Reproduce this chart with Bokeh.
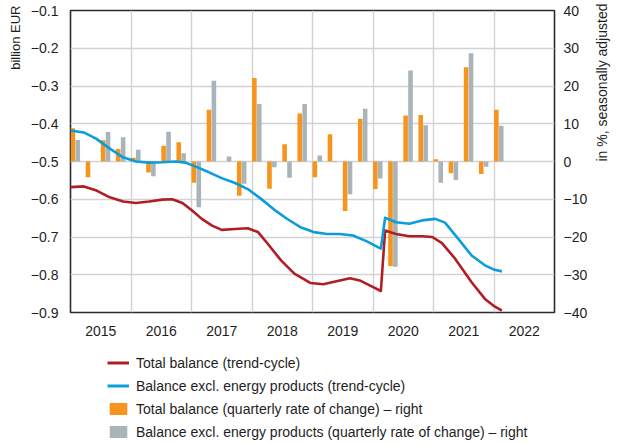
import math
from bokeh.plotting import figure
from bokeh.layouts import column
from bokeh.models import (Range1d, LinearAxis, FixedTicker, Legend, LegendItem,
                          CustomJSTickFormatter, Title)
from bokeh.embed import file_html
from bokeh.resources import INLINE

# ---------------- data ----------------
years = [2015, 2016, 2017, 2018, 2019, 2020, 2021, 2022]
left_ticks = [-0.9, -0.8, -0.7, -0.6, -0.5, -0.4, -0.3, -0.2, -0.1]
right_ticks = [-40, -30, -20, -10, 0, 10, 20, 30, 40]

quarters = ["2015Q1", "2015Q2", "2015Q3", "2015Q4",
            "2016Q1", "2016Q2", "2016Q3", "2016Q4",
            "2017Q1", "2017Q2", "2017Q3", "2017Q4",
            "2018Q1", "2018Q2", "2018Q3", "2018Q4",
            "2019Q1", "2019Q2", "2019Q3", "2019Q4",
            "2020Q1", "2020Q2", "2020Q3", "2020Q4",
            "2021Q1", "2021Q2", "2021Q3", "2021Q4",
            "2022Q1"]
total_qoq = [8.8, -4.2, 5.6, 3.3,
             1.0, -2.9, 4.2, 5.1,
             -5.6, 13.7, 0.0, -9.1,
             22.1, -7.2, 4.6, 12.7,
             -4.2, 7.2, -13.1, 11.3,
             -7.3, -27.7, 12.2, 12.3,
             0.6, -3.1, 25.0, -3.3,
             13.7]
excl_qoq = [5.7, 0.0, 7.8, 6.4,
            3.1, -3.9, 7.9, 2.2,
            -12.1, 21.4, 1.3, -5.9,
            15.2, -1.5, -4.3, 15.2,
            1.6, -0.2, -8.7, 14.0,
            -4.5, -27.9, 24.1, 9.6,
            -5.6, -4.9, 28.7, -1.4,
            9.5]

total_t = [2015.00, 2015.22, 2015.43, 2015.65, 2015.87, 2016.08, 2016.30, 2016.52,
           2016.68, 2016.85, 2017.01, 2017.17, 2017.34, 2017.50, 2017.72, 2017.93,
           2018.10, 2018.26, 2018.48, 2018.70, 2018.80, 2018.97, 2019.18, 2019.34,
           2019.62, 2019.78, 2019.97, 2020.13, 2020.20, 2020.38, 2020.60, 2020.81,
           2020.98, 2021.14, 2021.36, 2021.63, 2021.85, 2022.01, 2022.13]
total_trend = [-0.568, -0.566, -0.577, -0.595, -0.606, -0.610, -0.606, -0.601,
               -0.600, -0.610, -0.630, -0.652, -0.670, -0.681, -0.679, -0.677,
               -0.687, -0.718, -0.762, -0.797, -0.806, -0.822, -0.825, -0.819,
               -0.809, -0.815, -0.830, -0.843, -0.683, -0.692, -0.698, -0.698,
               -0.700, -0.716, -0.758, -0.820, -0.864, -0.884, -0.895]

excl_t = [2015.00, 2015.22, 2015.43, 2015.65, 2015.87, 2016.08, 2016.30, 2016.52,
          2016.74, 2016.90, 2017.06, 2017.28, 2017.50, 2017.72, 2017.93, 2018.15,
          2018.37, 2018.59, 2018.80, 2019.02, 2019.24, 2019.45, 2019.67, 2019.89,
          2020.13, 2020.20, 2020.38, 2020.60, 2020.81, 2021.03, 2021.19, 2021.41,
          2021.63, 2021.85, 2022.01, 2022.13]
excl_trend = [-0.418, -0.423, -0.440, -0.466, -0.489, -0.500, -0.503, -0.502,
              -0.500, -0.503, -0.513, -0.528, -0.544, -0.557, -0.573, -0.599,
              -0.628, -0.653, -0.674, -0.687, -0.692, -0.692, -0.696, -0.711,
              -0.731, -0.649, -0.661, -0.665, -0.656, -0.652, -0.662, -0.705,
              -0.749, -0.775, -0.787, -0.791]

labels = ["Total balance (trend-cycle)",
          "Balance excl. energy products (trend-cycle)",
          "Total balance (quarterly rate of change) \u2013 right",
          "Balance excl. energy products (quarterly rate of change) \u2013 right"]
left_title = "billion EUR"
right_title = "in %, seasonally adjusted"

# ---------------- style ----------------
ORANGE = "#F7941D"
GRAY = "#A9B4BA"
RED = "#B01E23"
BLUE = "#0B9DD9"
TXT = "#1e1e1e"
FONT = "Liberation Sans"
FS = "14px"

q_start = [int(q[:4]) + (int(q[5]) - 1) / 4 for q in quarters]
x_orange = [x + 0.039 for x in q_start]
x_gray = [x + 0.120 for x in q_start]
BAR_W = 0.076

TOP_H = 346
p = figure(width=621, height=TOP_H,
           x_range=Range1d(years[0], years[-1] + 1),
           y_range=Range1d(left_ticks[0], left_ticks[-1]),
           output_backend="svg", toolbar_location=None,
           min_border_left=67, min_border_right=63,
           min_border_top=10, min_border_bottom=TOP_H - 312)
p.extra_y_ranges = {"pct": Range1d(right_ticks[0], right_ticks[-1])}

p.background_fill_color = "white"
p.border_fill_color = "white"
p.outline_line_color = "#2b2b2b"
p.outline_line_width = 1.6

# axes
p.xaxis.ticker = FixedTicker(ticks=[y + 0.5 for y in years])
p.xaxis.formatter = CustomJSTickFormatter(code="return Math.floor(tick).toString();")
p.yaxis.ticker = FixedTicker(ticks=left_ticks)
p.yaxis.formatter = CustomJSTickFormatter(
    code="return tick.toFixed(1).replace('-', '\u2212');")

right_axis = LinearAxis(y_range_name="pct", ticker=FixedTicker(ticks=right_ticks),
                        formatter=CustomJSTickFormatter(
                            code="return tick.toFixed(0).replace('-', '\u2212');"))
p.add_layout(right_axis, "right")

for ax in [p.xaxis[0], p.yaxis[0], right_axis]:
    ax.axis_line_color = None
    ax.major_tick_in = 0
    ax.major_tick_out = 0
    ax.minor_tick_in = 0
    ax.minor_tick_out = 0
    ax.major_label_text_font = FONT
    ax.major_label_text_font_size = FS
    ax.major_label_text_color = TXT
    ax.axis_label_text_font = FONT
    ax.axis_label_text_font_size = "14px"
    ax.axis_label_text_font_style = "normal"
    ax.axis_label_text_color = TXT
p.xaxis.major_label_standoff = 13
p.yaxis.major_label_standoff = 12
right_axis.major_label_standoff = 9

# right axis title (reads bottom-to-top)
right_axis.axis_label = right_title
right_axis.axis_label_standoff = 12
if "axis_label_orientation" in right_axis.properties():
    right_axis.axis_label_orientation = math.pi / 2

# left axis title, top-aligned
p.add_layout(Title(text=left_title, align="right", offset=-5, standoff=10,
                   text_font=FONT, text_font_size="13px", text_font_style="normal",
                   text_color=TXT), "left")

# grids
p.xgrid.ticker = FixedTicker(ticks=years[1:])
p.ygrid.ticker = FixedTicker(ticks=left_ticks)
for g in [p.xgrid[0], p.ygrid[0]]:
    g.grid_line_color = "#d2d2d2"
    g.grid_line_width = 1.4

# bars
p.vbar(x=x_orange, top=total_qoq, bottom=0, width=BAR_W, y_range_name="pct",
       fill_color=ORANGE, line_color=None)
p.vbar(x=x_gray, top=excl_qoq, bottom=0, width=BAR_W, y_range_name="pct",
       fill_color=GRAY, line_color=None)

# lines
p.line(total_t, total_trend, line_color=RED, line_width=2.6, line_join="round")
p.line(excl_t, excl_trend, line_color=BLUE, line_width=2.6, line_join="round")

# ---------------- legend panel ----------------
LEG_H = 444 - TOP_H
q = figure(width=621, height=LEG_H, x_range=Range1d(0, 1), y_range=Range1d(0, 1),
           output_backend="svg", toolbar_location=None,
           x_axis_location=None, y_axis_location=None,
           min_border_left=0, min_border_right=0, min_border_top=0, min_border_bottom=0)
q.outline_line_color = None
q.grid.visible = False
q.background_fill_color = "white"
q.border_fill_color = "white"
# legend-only renderers, placed outside the visible range
lr_red = q.line([5, 6], [5, 5], line_color=RED, line_width=3)
lr_blue = q.line([5, 6], [5, 5], line_color=BLUE, line_width=3)
lr_or = q.vbar(x=[5], top=[5], bottom=4, width=0.1, fill_color=ORANGE, line_color=None)
lr_gr = q.vbar(x=[5], top=[5], bottom=4, width=0.1, fill_color=GRAY, line_color=None)

legend = Legend(items=[
    LegendItem(label=labels[0], renderers=[lr_red]),
    LegendItem(label=labels[1], renderers=[lr_blue]),
    LegendItem(label=labels[2], renderers=[lr_or]),
    LegendItem(label=labels[3], renderers=[lr_gr]),
], location=(37, 4))
legend.padding = 0
legend.margin = 0
legend.spacing = 6
legend.glyph_width = 22
legend.glyph_height = 15
legend.label_height = 17
legend.label_standoff = 7
legend.border_line_color = None
legend.background_fill_alpha = 0
legend.label_text_font = FONT
legend.label_text_font_size = FS
legend.label_text_color = TXT
q.add_layout(legend, "center")

layout = column(p, q, spacing=0)
open("out.html", "w").write(file_html(layout, INLINE))
